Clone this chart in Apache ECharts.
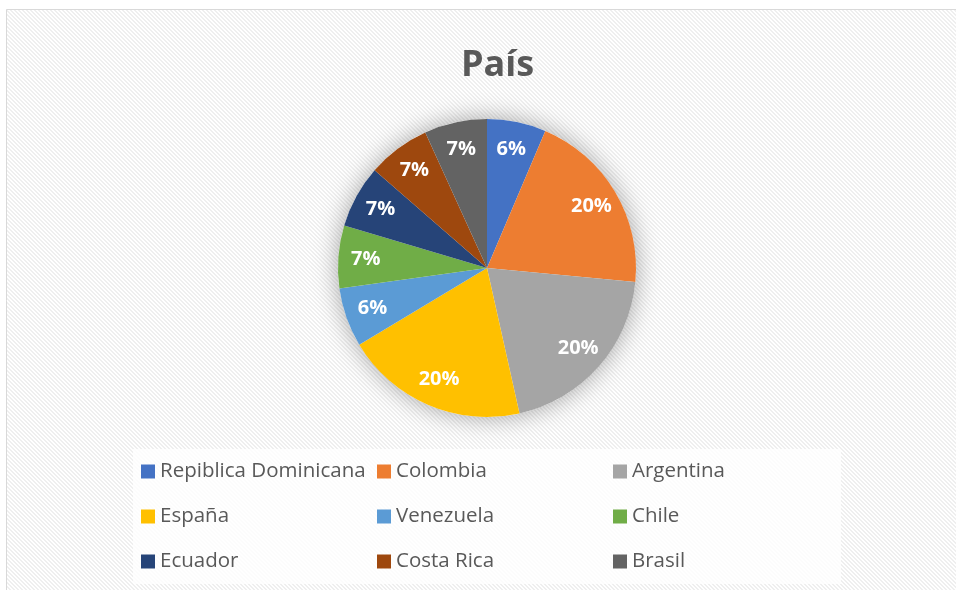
<!DOCTYPE html>
<html>
<head>
<meta charset="utf-8">
<script src="https://cdn.jsdelivr.net/npm/echarts@6/dist/echarts.min.js"></script>
<style>
	html, body { margin: 0; padding: 0; background: #fff; }
	#chart { width: 956px; height: 590px; }
</style>
</head>
<body>
<div id="chart"></div>
<script>
// valores (porcentaje de cada país)
const paises = ["Repiblica Dominicana", "Colombia", "Argentina", "España", "Venezuela", "Chile", "Ecuador", "Costa Rica", "Brasil"];
const valores = [6.4, 20.1, 20.0, 19.9, 6.4, 6.8, 6.8, 6.8, 6.8];
const colores = ["#4472C4", "#ED7D31", "#A5A5A5", "#FFC000", "#5B9BD5", "#70AD47", "#264478", "#9E480E", "#636363"];

const fuente = "'Open Sans', 'Liberation Sans', sans-serif";

// fondo rayado en diagonal
function rayado() {
	var c = document.createElement("canvas");
	c.width = 8;
	c.height = 8;
	var ctx = c.getContext("2d");
	ctx.fillStyle = "#ffffff";
	ctx.fillRect(0, 0, 8, 8);
	ctx.fillStyle = "#efefef";
	for (let y = 0; y < 8; y++) {
		for (let x = 0; x < 8; x++) {
			if ((((x - y) % 4) + 4) % 4 < 2) ctx.fillRect(x, y, 1, 1);
		}
	}
	return c;
}

const datos = paises.map((n, i) => ({ name: n, value: valores[i] }));

var chart = echarts.init(document.getElementById("chart"));

var option = {
	animation: false,
	color: colores,
	graphic: [
		{
			type: "rect",
			z: -10,
			silent: true,
			shape: { x: 6.5, y: 9.5, width: 1000, height: 1000 },
			style: {
				fill: { image: rayado(), repeat: "repeat" },
				stroke: "#d9d9d9",
				lineWidth: 1,
			},
		},
	],
	title: {
		text: "País",
		left: 456,
		top: 43,
		textStyle: {
			fontFamily: fuente,
			fontSize: 36,
			fontWeight: "bold",
			color: "#595959",
		},
	},
	legend: {
		data: paises,
		left: 133,
		top: 449,
		width: 720,
		padding: [5, 2, 5, 8],
		backgroundColor: "rgba(255,255,255,0.8)",
		icon: "rect",
		itemWidth: 14,
		itemHeight: 14,
		itemGap: 10,
		selectedMode: false,
		textStyle: {
			fontFamily: fuente,
			fontSize: 20.5,
			color: "#595959",
			width: 207,
			lineHeight: 35,
		},
	},
	series: [
		{
			// sombra detrás del pastel
			name: "sombra",
			type: "pie",
			silent: true,
			z: 1,
			center: [487, 268],
			radius: 149,
			label: { show: false },
			labelLine: { show: false },
			itemStyle: {
				color: "#ffffff",
				shadowBlur: 24,
				shadowColor: "rgba(0,0,0,0.35)",
			},
			data: [{ name: "sombra", value: 1 }],
		},
		{
			name: "País",
			type: "pie",
			z: 2,
			silent: true,
			center: [487, 268],
			radius: 149,
			startAngle: 90,
			label: { show: false },
			labelLine: { show: false },
			itemStyle: { borderWidth: 0 },
			data: datos,
		},
		{
			// anillo transparente solo para colocar las etiquetas
			name: "etiquetas",
			type: "pie",
			z: 3,
			silent: true,
			center: [487, 268],
			radius: [88, 149],
			startAngle: 90,
			itemStyle: { color: "rgba(0,0,0,0)" },
			labelLine: { show: false },
			label: {
				show: true,
				position: "inside",
				formatter: (p) => Math.round(p.percent) + "%",
				fontFamily: fuente,
				fontSize: 20,
				fontWeight: "bold",
				color: "#ffffff",
			},
			data: datos,
		},
	],
};

chart.setOption(option);
</script>
</body>
</html>
